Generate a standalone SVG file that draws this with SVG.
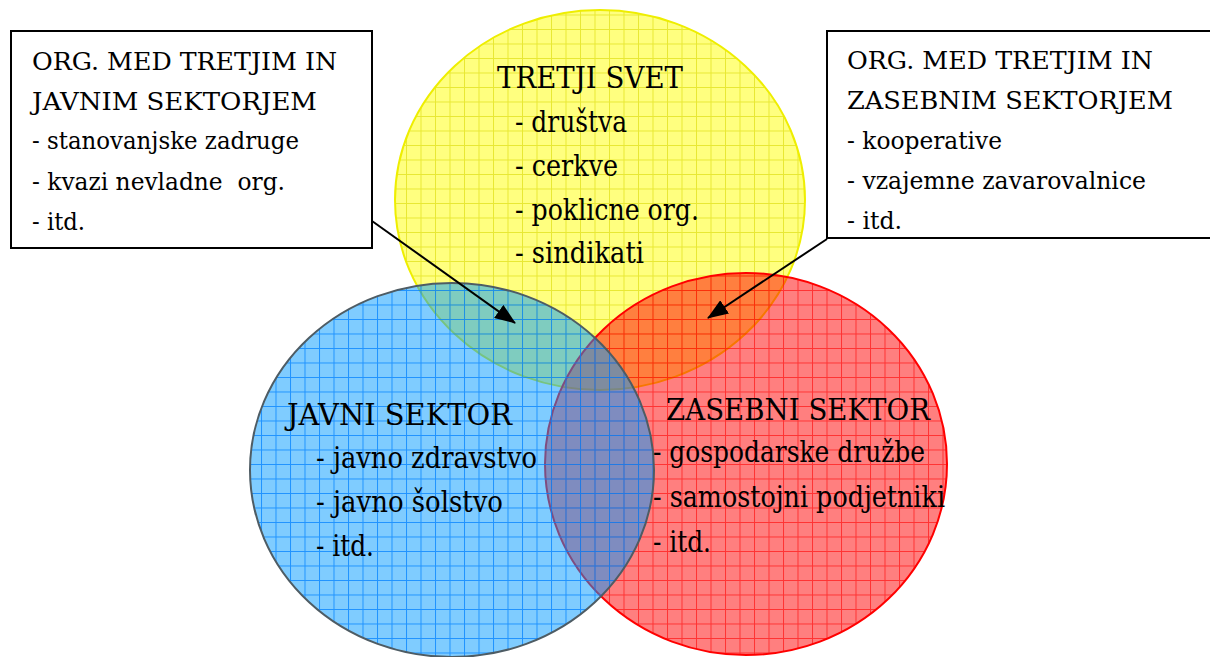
<svg xmlns="http://www.w3.org/2000/svg" width="1210" height="657" viewBox="0 0 1210 657">
<style>
.t{font-family:"DejaVu Serif",serif;fill:#000}
.c{font-size:29px}
.b{font-size:25px}
.box{fill:#fff;stroke:#000;stroke-width:2}
.conn{stroke:#000;stroke-width:2;fill:none;marker-end:url(#ah)}
</style>
<defs>
<pattern id="gy" width="14.5" height="14.5" patternUnits="userSpaceOnUse"><path d="M0 0.5H14.5M0.5 0V14.5" stroke="#d8d800" stroke-opacity="0.6" stroke-width="1"/></pattern>
<pattern id="gb" width="14.5" height="14.5" patternUnits="userSpaceOnUse"><path d="M0 0.5H14.5M0.5 0V14.5" stroke="#0080ff" stroke-opacity="0.75" stroke-width="1"/></pattern>
<pattern id="gr" width="14.5" height="14.5" patternUnits="userSpaceOnUse"><path d="M0 0.5H14.5M0.5 0V14.5" stroke="#ff0000" stroke-opacity="0.6" stroke-width="1"/></pattern>
<marker id="ah" markerWidth="21" markerHeight="16" refX="20" refY="8" orient="auto" markerUnits="userSpaceOnUse" viewBox="0 0 21 16"><path d="M0 0L21 8L0 16z" fill="#000"/></marker>
</defs>
<rect width="1210" height="657" fill="#fff"/>
<g id="tretji">
<ellipse cx="600" cy="200" rx="205" ry="190" fill="#ffff00" fill-opacity="0.5"/>
<ellipse cx="600" cy="200" rx="205" ry="190" fill="url(#gy)" stroke="#eeee00" stroke-width="2"/>
</g>
<g id="zasebni">
<ellipse cx="746" cy="464" rx="201" ry="191" fill="#ff0000" fill-opacity="0.5"/>
<ellipse cx="746" cy="464" rx="201" ry="191" fill="url(#gr)" stroke="#ff0000" stroke-width="2"/>
</g>
<g id="javni">
<ellipse cx="452" cy="470" rx="202" ry="187" fill="#0099ff" fill-opacity="0.5"/>
<ellipse cx="452" cy="470" rx="202" ry="187" fill="url(#gb)" stroke="#4e5c64" stroke-width="2"/>
</g>
<g id="tretji-text" class="t c">
<text x="497" y="88" textLength="186" lengthAdjust="spacingAndGlyphs">TRETJI SVET</text>
<text x="515" y="132" textLength="112" lengthAdjust="spacingAndGlyphs">- društva</text>
<text x="515" y="176" textLength="103" lengthAdjust="spacingAndGlyphs">- cerkve</text>
<text x="515" y="220" textLength="184" lengthAdjust="spacingAndGlyphs">- poklicne org.</text>
<text x="515" y="263" textLength="129" lengthAdjust="spacingAndGlyphs">- sindikati</text>
</g>
<g id="javni-text" class="t c">
<text x="287" y="425" textLength="225" lengthAdjust="spacingAndGlyphs">JAVNI SEKTOR</text>
<text x="316" y="468" textLength="221" lengthAdjust="spacingAndGlyphs">- javno zdravstvo</text>
<text x="316" y="512" textLength="187" lengthAdjust="spacingAndGlyphs">- javno šolstvo</text>
<text x="316" y="556" textLength="58" lengthAdjust="spacingAndGlyphs">- itd.</text>
</g>
<g id="zasebni-text" class="t c">
<text x="666" y="420" textLength="264" lengthAdjust="spacingAndGlyphs">ZASEBNI SEKTOR</text>
<text x="653" y="462" textLength="272" lengthAdjust="spacingAndGlyphs">- gospodarske družbe</text>
<text x="653" y="507" textLength="292" lengthAdjust="spacingAndGlyphs">- samostojni podjetniki</text>
<text x="653" y="552" textLength="58" lengthAdjust="spacingAndGlyphs">- itd.</text>
</g>
<g id="box-javni">
<rect class="box" x="11" y="31" width="361" height="217"/>
<g class="t b">
<text x="32" y="70" textLength="305" lengthAdjust="spacingAndGlyphs">ORG. MED TRETJIM IN</text>
<text x="32" y="110" textLength="285" lengthAdjust="spacingAndGlyphs">JAVNIM SEKTORJEM</text>
<text x="32" y="149" textLength="267" lengthAdjust="spacingAndGlyphs">- stanovanjske zadruge</text>
<text x="32" y="190" textLength="253" lengthAdjust="spacingAndGlyphs" xml:space="preserve">- kvazi nevladne  org.</text>
<text x="32" y="230" textLength="53" lengthAdjust="spacingAndGlyphs">- itd.</text>
</g>
</g>
<g id="box-zasebni">
<rect class="box" x="827" y="31" width="400" height="207"/>
<g class="t b">
<text x="847" y="69" textLength="306" lengthAdjust="spacingAndGlyphs">ORG. MED TRETJIM IN</text>
<text x="847" y="109" textLength="326" lengthAdjust="spacingAndGlyphs">ZASEBNIM SEKTORJEM</text>
<text x="847" y="149" textLength="155" lengthAdjust="spacingAndGlyphs">- kooperative</text>
<text x="847" y="189" textLength="299" lengthAdjust="spacingAndGlyphs">- vzajemne zavarovalnice</text>
<text x="847" y="229" textLength="55" lengthAdjust="spacingAndGlyphs">- itd.</text>
</g>
</g>
<g id="connectors">
<path class="conn" d="M372 221L515 323"/>
<path class="conn" d="M827 239L708 318"/>
</g>
</svg>
